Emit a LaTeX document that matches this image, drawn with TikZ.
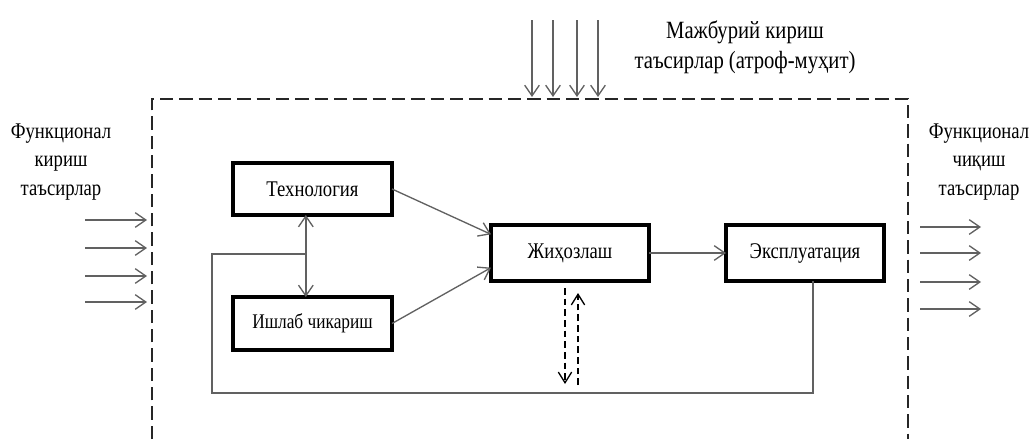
\documentclass[tikz,border=0pt]{standalone}
\usepackage{fontspec}
\usepackage{graphicx}
\setmainfont{Liberation Serif}
\usetikzlibrary{arrows.meta,calc}
% text is set slightly taller than wide
\newcommand{\tall}[1]{\scalebox{1}[1.2]{#1}}
\begin{document}
\begin{tikzpicture}[x=0.75pt,y=-0.75pt,
  every node/.style={inner sep=0pt,outer sep=0pt},
  txt/.style={font=\fontsize{14}{21.4}\selectfont,align=center,text=black},
  block/.style={draw=black,line width=2.3pt,fill=white,minimum width=159*0.75pt,
    font=\fontsize{14}{16}\selectfont},
  link/.style={draw=black!62,line width=1pt,-{Straight Barb[length=8pt,width=11pt]}},
  plain/.style={draw=black!62,line width=1pt},
  frame/.style={draw=black!85,line width=1.6pt,dash pattern=on 10pt off 4.5pt},
  flow/.style={draw=black,line width=1pt,dash pattern=on 5pt off 3pt,
    -{Straight Barb[length=8pt,width=10pt]}}
]
\useasboundingbox (0,0) rectangle (1030,439);

% system boundary (open at the bottom)
\draw[frame] (152,439) -- (152,99) -- (908,99) -- (908,439);

% blocks
\node[block,minimum height=52*0.75pt] (tech) at (312.5,189) {\tall{Технология}};
\node[block,minimum height=53*0.75pt,font=\fontsize{13}{15}\selectfont] (prod) at (312.5,323.5) {\tall{Ишлаб чикариш}};
\node[block,minimum height=56*0.75pt,minimum width=158*0.75pt] (equip) at (570,253) {\tall{Жиҳозлаш}};
\node[block,minimum height=56*0.75pt,minimum width=158*0.75pt] (oper) at (805,253) {\tall{Эксплуатация}};

% labels
\node[txt,font=\fontsize{15.5}{22.5}\selectfont] (envlbl) at (745,47) {\tall{Мажбурий кириш}\\\tall{таъсирлар (атроф-муҳит)}};
\node[txt] (inlbl) at (61,162) {\tall{Функционал}\\\tall{кириш}\\\tall{таъсирлар}};
\node[txt] (outlbl) at (979,162) {\tall{Функционал}\\\tall{чиқиш}\\\tall{таъсирлар}};

% links between blocks
\draw[link] (tech.east) -- ([yshift=14pt]equip.west);
\draw[link] (prod.east) -- ([yshift=-11pt]equip.west);
\draw[link] (equip.east) -- (oper.west);
\draw[link,{Straight Barb[length=8pt,width=11pt]}-{Straight Barb[length=8pt,width=11pt]}]
  ([xshift=-5pt]tech.south) -- ([xshift=-5pt]prod.north);

% feedback from operation
\coordinate (fbL) at (212,393);
\coordinate (fbJ) at (306,254);
\draw[plain] ([xshift=6pt]oper.south) |- (fbL) |- (fbJ);

% dashed exchange below equipment
\coordinate (dnEnd) at (565,384);
\coordinate (upStart) at (578,385);
\draw[flow] ([shift={(-5,7)}]equip.south) -- (dnEnd);
\draw[flow] (upStart) -- ([shift={(8,12)}]equip.south);

% environment inputs
\foreach \x [count=\i] in {532,553,577,598}{
  \coordinate (envS\i) at (\x,20);
  \coordinate (envE\i) at (\x,97);
  \draw[link] (envS\i) -- (envE\i);
}
% functional inputs
\foreach \y [count=\i] in {220,248,276,302}{
  \coordinate (inS\i) at (85,\y);
  \coordinate (inE\i) at (147,\y);
  \draw[link] (inS\i) -- (inE\i);
}
% functional outputs
\foreach \y [count=\i] in {227,253,282,309}{
  \coordinate (outS\i) at (920,\y);
  \coordinate (outE\i) at (981,\y);
  \draw[link] (outS\i) -- (outE\i);
}
\end{tikzpicture}
\end{document}
